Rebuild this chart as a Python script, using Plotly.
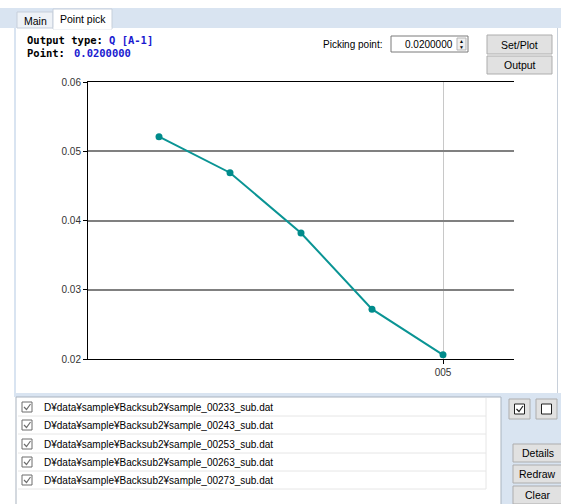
import plotly.graph_objects as go

# ---------------- data ----------------
file_paths = [
    "D¥data¥sample¥Backsub2¥sample_00233_sub.dat",
    "D¥data¥sample¥Backsub2¥sample_00243_sub.dat",
    "D¥data¥sample¥Backsub2¥sample_00253_sub.dat",
    "D¥data¥sample¥Backsub2¥sample_00263_sub.dat",
    "D¥data¥sample¥Backsub2¥sample_00273_sub.dat",
]
file_index = [1, 2, 3, 4, 5]
intensity = [0.0521, 0.0469, 0.0382, 0.0272, 0.0206]
x_tick_vals = [5]
x_tick_text = ["005"]
y_tick_vals = [0.02, 0.03, 0.04, 0.05, 0.06]
y_tick_text = ["0.02", "0.03", "0.04", "0.05", "0.06"]
output_type = "Q [A-1]"
point_value = "0.0200000"

# ---------------- geometry helpers (window pixel -> paper) ----------------
OFF = 0
WIN_W, WIN_H = 561, 504
W, H = WIN_W - OFF, WIN_H - OFF
L, R, T, B = 88, 514, 82, 359   # plot area in window pixels


def X(px):
    return (px - L) / (R - L)


def Y(py):
    return (B - py) / (B - T)


LB = "#d9e4f1"
BTN = "#e1e1e1"
BTN_BORDER = "#adadad"
SANS = "Liberation Sans Narrow, Arial Narrow, Liberation Sans, Arial, sans-serif"
MONO = "DejaVu Sans Mono, Liberation Mono, monospace"

fig = go.Figure()
fig.add_trace(go.Scatter(
    x=file_index, y=intensity, mode="lines+markers",
    line=dict(color="#0a9494", width=2),
    marker=dict(color="#008b8b", size=7),
    hoverinfo="skip", showlegend=False,
))

shapes = []
ann = []


def rect(x0, y0, x1, y1, fill, line=None, lw=1, layer="below"):
    shapes.append(dict(type="rect", xref="paper", yref="paper",
                       x0=X(x0), x1=X(x1), y0=Y(y1), y1=Y(y0),
                       fillcolor=fill,
                       line=dict(color=line or fill, width=lw if line else 0),
                       layer=layer))


def hline(x0, x1, y, color, lw=1, layer="above"):
    shapes.append(dict(type="line", xref="paper", yref="paper",
                       x0=X(x0), x1=X(x1), y0=Y(y), y1=Y(y),
                       line=dict(color=color, width=lw), layer=layer))


def vline(x, y0, y1, color, lw=1, layer="above"):
    shapes.append(dict(type="line", xref="paper", yref="paper",
                       x0=X(x), x1=X(x), y0=Y(y0), y1=Y(y1),
                       line=dict(color=color, width=lw), layer=layer))


def text(x, y, s, size=10, color="#000000", family=SANS, anchor="left", bold=False):
    if bold:
        s = "<b>" + s + "</b>"
    ann.append(dict(xref="paper", yref="paper", x=X(x), y=Y(y), text=s,
                    showarrow=False, xanchor=anchor, yanchor="middle",
                    font=dict(size=size, color=color, family=family)))


def button(x0, y0, x1, y1, label):
    rect(x0, y0, x1, y1, BTN, BTN_BORDER, 1, layer="above")
    text((x0 + x1) / 2, (y0 + y1) / 2, label, size=10.5, anchor="center")


def checkbox(x0, yc, checked=True, size=10, color="#6d6d6d"):
    rect(x0, yc - size / 2, x0 + size, yc + size / 2, "#ffffff", color, 1, layer="above")
    if checked:
        shapes.append(dict(type="path", xref="paper", yref="paper",
                           path="M {} {} L {} {} L {} {}".format(
                               X(x0 + 2), Y(yc), X(x0 + 4.5), Y(yc + 2.5), X(x0 + 8.5), Y(yc - 3)),
                           line=dict(color=color, width=1.2), layer="above"))


# window background pieces
rect(0, 8, WIN_W, 28, LB)              # tab strip
rect(14, 28, 16, 397, LB)              # left border of panel
vline(557.5, 28, 393, "#c8d0da", 1, layer="below")
rect(14, 393, WIN_W, 397, LB)          # band between panel and list
rect(501, 397, WIN_W, WIN_H, LB)       # right side control area

# tabs
rect(17, 12, 53, 28, "#eef2f7", "#c6cfdb", 1)
text(35, 21, "Main", size=10.5, anchor="center")
rect(53, 9, 112, 29, "#ffffff", "#c6cfdb", 1)
hline(53.5, 111.5, 28.5, "#ffffff", 2, layer="below")
text(82.5, 19, "Point pick", size=10.5, anchor="center")

# header text
text(25, 40, "Output type:", size=10.5, family=MONO, bold=True)
text(107, 40, output_type, size=10.5, family=MONO, bold=True, color="#1a1ad0")
text(25, 53, "Point:", size=10.5, family=MONO, bold=True)
text(72, 53, point_value, size=10.5, family=MONO, bold=True, color="#1a1ad0")

# picking point control
text(384, 44, "Picking point:", size=10, anchor="right")
rect(391, 36, 468, 52, "#ffffff", "#7a7a7a", 1, layer="above")
text(455, 44, point_value, size=10, anchor="right")
rect(457, 38, 466, 50, "#f0f0f0", "#b5b5b5", 1, layer="above")
text(461.5, 41, "▲", size=5, anchor="center")
text(461.5, 47, "▼", size=5, anchor="center")
button(487, 35, 552, 54, "Set/Plot")
button(487, 56, 552, 74, "Output")

# file list
rect(16, 397, 501, WIN_H + 2, "#ffffff", "#a9b3bf", 1)
row_y = [407, 425, 444, 462, 480]
for yc, path in zip(row_y, file_paths):
    hline(18, 486, yc + 9, "#e6e6e6", 1)
    checkbox(22, yc, True)
    text(42, yc, path, size=10)
vline(486, 398, 489, "#e6e6e6", 1)

# right controls
rect(509, 399, 530, 419, BTN, BTN_BORDER, 1, layer="above")
checkbox(514.5, 409, True, size=10, color="#222222")
rect(536, 399, 557, 419, BTN, BTN_BORDER, 1, layer="above")
checkbox(541.5, 409, False, size=10, color="#222222")
button(513, 444, 562, 462, "Details")
button(513, 465, 562, 483, "Redraw")
button(513, 486, 562, 504, "Clear")

# darker gridline at 0.04 (above gray grid, below the trace)
shapes.append(dict(type="line", xref="paper", yref="y", x0=0, x1=1,
                   y0=0.04, y1=0.04, line=dict(color="#000000", width=1), layer="between"))

fig.update_layout(
    width=W, height=H, autosize=False,
    margin=dict(l=L - OFF, r=WIN_W - R, t=T - OFF, b=WIN_H - B, pad=0),
    paper_bgcolor="#ffffff", plot_bgcolor="#ffffff",
    shapes=shapes, annotations=ann,
    xaxis=dict(range=[0, 6], tickmode="array", tickvals=x_tick_vals, ticktext=x_tick_text,
               showgrid=True, gridcolor="#c8c8c8", gridwidth=1,
               showline=True, linecolor="#000000", linewidth=1, mirror=True,
               ticks="outside", ticklen=4, tickcolor="#000000",
               tickfont=dict(family=SANS, size=10, color="#333333"),
               zeroline=False, fixedrange=True),
    yaxis=dict(range=[0.02, 0.06], tickmode="array", tickvals=y_tick_vals, ticktext=y_tick_text,
               showgrid=True, gridcolor="#808080", gridwidth=2,
               showline=True, linecolor="#000000", linewidth=1, mirror=False,
               ticks="outside", ticklen=4, tickcolor="#000000",
               tickfont=dict(family=SANS, size=10, color="#333333"),
               zeroline=False, fixedrange=True),
    font=dict(family=SANS),
)

page_fix = ("document.documentElement.style.margin='0';"
            "document.body.style.margin='0';"
            "document.documentElement.style.overflow='hidden';"
            "document.body.style.overflow='hidden';")

fig.write_html("out.html", config=dict(displayModeBar=False), post_script=page_fix)
